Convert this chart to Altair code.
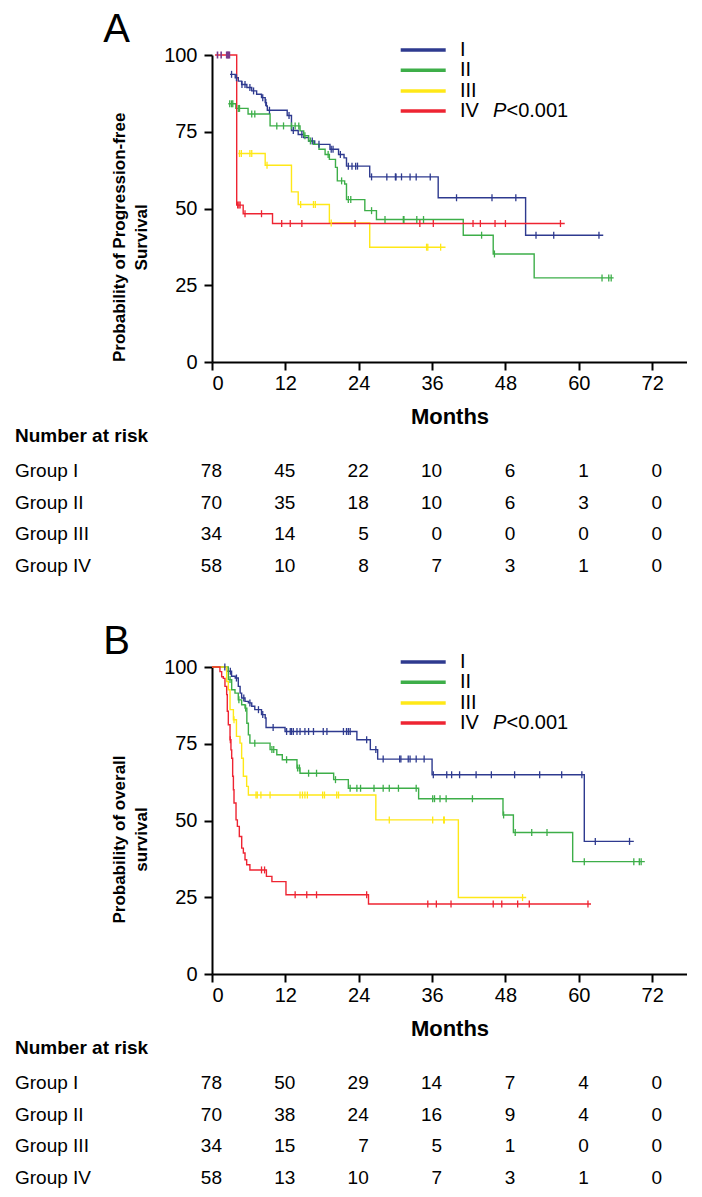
import altair as alt
import pandas as pd

FONT = "Liberation Sans"

GROUPS = ["I", "II", "III", "IV"]
COLORS = ["#2E3A8F", "#3DAE49", "#FFE817", "#EE2432"]
OVERLAP_COLOR = "#7A3A8C"
X_TICKS = [0, 12, 24, 36, 48, 60, 72]
Y_TICKS = [0, 25, 50, 75, 100]
RISK_TIMES = [0, 12, 24, 36, 48, 60, 72]
ROW_LABELS = ["Group I", "Group II", "Group III", "Group IV"]

# ---------------- Panel A : progression-free survival ----------------
A_I_t = [2.95, 3.8, 4.3, 4.85, 5.7, 6.5, 7.3, 8.1, 8.7, 8.9, 9.05, 12.3, 13.0, 14.1, 15.0, 15.8, 16.8, 19.3, 20.7, 21.6, 22.0, 25.8, 37.0, 51.3]
A_I_s = [93.7, 92.6, 91.5, 90.4, 89.4, 88.3, 87.2, 86.1, 84.5, 83.4, 82.0, 80.3, 75.4, 74.1, 73.1, 72.0, 70.9, 69.3, 67.6, 66.5, 63.8, 60.3, 53.5, 41.3]
A_I_end = 64.0
A_I_cens = [3.2, 4.0, 4.9, 5.4, 6.2, 6.8, 8.3, 8.8, 9.4, 12.6, 13.3, 14.7, 16.4, 17.5, 19.5, 19.8, 21.0, 22.3, 22.9, 23.5, 23.8, 26.1, 28.6, 30.0, 30.1, 31.0, 32.4, 33.4, 35.7, 40.0, 45.8, 49.7, 53.0, 55.9, 63.3]

A_II_t = [2.67, 3.9, 5.9, 9.5, 14.4, 15.0, 15.8, 16.6, 17.5, 18.5, 19.2, 20.2, 20.5, 21.7, 22.0, 25.0, 26.9, 41.1, 46.0, 52.7]
A_II_s = [84.1, 82.6, 80.8, 76.9, 75.3, 73.7, 72.0, 70.9, 69.3, 67.6, 66.0, 63.4, 59.0, 58.0, 52.9, 49.3, 46.4, 41.3, 35.2, 27.4]
A_II_end = 65.7
A_II_cens = [2.9, 3.2, 3.4, 4.3, 4.5, 6.5, 7.0, 10.6, 11.7, 13.0, 13.6, 14.2, 15.2, 16.1, 19.0, 21.2, 22.3, 22.7, 26.1, 28.3, 31.3, 31.4, 33.5, 34.6, 44.1, 46.2, 63.8, 64.9, 65.3]

A_III_t = [4.3, 8.7, 13.0, 14.1, 19.2, 25.8]
A_III_s = [67.9, 64.1, 55.4, 51.3, 45.3, 37.4]
A_III_end = 38.2
A_III_cens = [4.5, 4.8, 6.2, 6.5, 9.0, 14.5, 16.6, 16.9, 19.5, 35.1, 35.3, 37.4]

A_IV_t = [0.5, 4.04, 5.1, 9.9]
A_IV_s = [100.0, 51.1, 48.3, 45.1]
A_IV_end = 57.7
A_IV_cens = [4.2, 4.4, 4.6, 5.4, 8.1, 11.4, 12.8, 14.7, 23.4, 34.0, 36.2, 42.7, 43.9, 46.3, 48.0, 57.0]

# overlapping (purple) censor marks at 100% in panel A
A_OVERLAP_t = [0.9, 1.5, 2.4, 2.55, 2.7, 2.85]
A_OVERLAP_s = [100, 100, 100, 100, 100, 100]

A_RISK_I = [78, 45, 22, 10, 6, 1, 0]
A_RISK_II = [70, 35, 18, 10, 6, 3, 0]
A_RISK_III = [34, 14, 5, 0, 0, 0, 0]
A_RISK_IV = [58, 10, 8, 7, 3, 1, 0]

# ---------------- Panel B : overall survival ----------------
B_I_t = [0, 2.4, 3.2, 3.8, 4.3, 4.6, 4.85, 5.4, 5.95, 6.5, 7.0, 8.1, 8.7, 8.84, 11.95, 23.7, 25.9, 27.1, 36.0, 60.9]
B_I_s = [100, 98.6, 97.0, 96.4, 93.7, 91.5, 89.9, 88.8, 88.3, 87.2, 86.1, 84.5, 83.4, 80.3, 79.0, 76.3, 73.1, 70.0, 64.9, 43.2]
B_I_end = 69.0
B_I_cens = [2.1, 3.0, 4.0, 5.2, 6.2, 7.6, 8.3, 10.0, 12.2, 12.8, 13.0, 13.3, 13.9, 14.4, 15.2, 15.8, 16.6, 18.2, 18.8, 21.5, 22.0, 22.3, 22.6, 25.3, 26.8, 28.0, 30.7, 30.9, 32.1, 32.4, 33.4, 34.7, 36.2, 38.4, 39.2, 40.5, 43.2, 45.7, 49.5, 53.6, 57.2, 60.5, 62.7, 68.3]

B_II_t = [0, 2.67, 3.22, 3.76, 4.3, 4.85, 5.4, 5.7, 5.95, 6.2, 9.5, 10.6, 11.5, 13.9, 14.4, 19.9, 22.3, 33.8, 47.6, 49.3, 59.0]
B_II_s = [100, 95.9, 92.6, 91.5, 89.3, 87.7, 86.6, 81.7, 77.9, 75.2, 73.1, 71.4, 69.8, 67.1, 65.4, 63.3, 60.5, 57.1, 51.8, 46.1, 36.6]
B_II_end = 70.8
B_II_cens = [2.95, 4.4, 5.5, 7.0, 9.8, 10.1, 12.2, 14.0, 14.3, 15.8, 17.1, 20.2, 22.6, 23.7, 24.3, 26.5, 28.0, 29.0, 30.5, 33.4, 36.1, 36.4, 37.3, 38.3, 42.6, 47.7, 49.6, 52.3, 54.8, 60.9, 69.0, 69.9, 70.2]

B_III_t = [0, 2.4, 2.67, 2.95, 3.5, 4.0, 4.58, 4.85, 5.13, 5.67, 5.95, 26.8, 40.3]
B_III_s = [100, 95.3, 92.6, 86.1, 82.8, 77.4, 75.2, 70.3, 64.4, 61.1, 58.3, 50.2, 24.9]
B_III_end = 51.4
B_III_cens = [3.6, 7.2, 7.4, 8.0, 9.5, 14.4, 14.8, 15.2, 15.6, 18.1, 18.4, 20.4, 20.7, 29.0, 36.1, 37.9, 38.0, 50.8]

B_IV_t = [0, 1.3, 1.58, 1.85, 2.12, 2.4, 2.5, 2.67, 2.95, 3.1, 3.22, 3.38, 3.5, 3.6, 3.93, 4.15, 4.47, 4.86, 5.13, 5.4, 5.67, 6.2, 8.9, 9.8, 12.1, 25.6]
B_IV_s = [100, 98.5, 96.8, 96.3, 93.7, 91.0, 85.6, 81.2, 76.3, 73.0, 70.3, 64.4, 60.0, 55.7, 50.2, 48.1, 44.8, 41.0, 39.4, 37.2, 35.6, 33.9, 31.8, 30.1, 25.8, 22.8]
B_IV_end = 62.0
B_IV_cens = [3.0, 8.1, 8.6, 13.6, 15.5, 17.1, 25.3, 35.3, 36.7, 39.1, 46.0, 47.4, 50.0, 51.9, 61.5]

B_RISK_I = [78, 50, 29, 14, 7, 4, 0]
B_RISK_II = [70, 38, 24, 16, 9, 4, 0]
B_RISK_III = [34, 15, 7, 5, 1, 0, 0]
B_RISK_IV = [58, 13, 10, 7, 3, 1, 0]


def step_df(curves):
    rows = []
    for g, (ts, ss, end) in zip(GROUPS, curves):
        pts = list(zip(ts, ss)) + [(end, ss[-1])]
        for i, (t, s) in enumerate(pts):
            rows.append({"group": g, "t": t, "s": s, "o": i})
    return pd.DataFrame(rows)


def cens_df(curves, cens):
    rows = []
    for g, (ts, ss, end), ct in zip(GROUPS, curves, cens):
        for c in ct:
            s = ss[0]
            for t, v in zip(ts, ss):
                if t <= c:
                    s = v
            rows.append({"group": g, "t": c, "s": s})
    return pd.DataFrame(rows)


DUMMY = pd.DataFrame({"k": [0]})
LEG_Y = [-5, 15.3, 36, 56]


def panel(letter, curves, cens, risk, ytitle, title_y, overlap=None):
    xs = alt.Scale(domain=[0, 77.7], nice=False, zero=False)
    ys = alt.Scale(domain=[0, 100], nice=False, zero=False)
    cs = alt.Scale(domain=GROUPS, range=COLORS)

    lines = alt.Chart(step_df(curves)).mark_line(
        interpolate="step-after", strokeWidth=1.4
    ).encode(
        x=alt.X("t:Q", scale=xs, axis=alt.Axis(
            values=X_TICKS, title="Months", titleFontSize=22, titleFontWeight="bold",
            titlePadding=13, labelPadding=3, format="d")),
        y=alt.Y("s:Q", scale=ys, axis=alt.Axis(
            values=Y_TICKS, title=ytitle, titleFontSize=17, titleFontWeight="bold",
            titleX=-84, titleY=title_y, titleLineHeight=22, labelPadding=7, format="d")),
        color=alt.Color("group:N", scale=cs, legend=None),
        detail="group:N",
        order="o:Q",
    )

    marks = alt.Chart(cens_df(curves, cens)).mark_point(
        shape="M0,-1L0,1", size=49, strokeWidth=1.3, filled=False, opacity=1
    ).encode(
        x=alt.X("t:Q", scale=xs),
        y=alt.Y("s:Q", scale=ys, axis=None),
        color=alt.Color("group:N", scale=cs, legend=None),
    )
    layers = [lines, marks]
    if overlap is not None:
        layers.append(alt.Chart(pd.DataFrame({"t": overlap[0], "s": overlap[1]})).mark_point(
            shape="M0,-1L0,1", size=49, strokeWidth=1.6, filled=False, opacity=1,
            color=OVERLAP_COLOR
        ).encode(
            x=alt.X("t:Q", scale=xs),
            y=alt.Y("s:Q", scale=ys, axis=None),
        ))

    risk_df = pd.DataFrame([
        {"label": lab, "t": t, "n": n}
        for lab, counts in zip(ROW_LABELS, risk)
        for t, n in zip(RISK_TIMES, counts)
    ])
    ty = alt.Scale(type="point", domain=ROW_LABELS, range=[416, 511], padding=0)
    nums = alt.Chart(risk_df).mark_text(
        align="right", dx=10, baseline="middle", fontSize=19, font=FONT, color="black"
    ).encode(
        x=alt.X("t:Q", scale=xs),
        y=alt.Y("label:N", scale=ty, axis=None),
        text="n:Q",
    )
    labs = alt.Chart(pd.DataFrame({"label": ROW_LABELS})).mark_text(
        align="left", baseline="middle", fontSize=19, font=FONT, color="black"
    ).encode(
        x=alt.value(-197),
        y=alt.Y("label:N", scale=ty, axis=None),
        text="label:N",
    )
    header = alt.Chart(DUMMY).mark_text(
        text="Number at risk", align="left", baseline="middle", fontSize=19,
        fontWeight="bold", font=FONT, color="black"
    ).encode(x=alt.value(-197), y=alt.value(381))

    let = alt.Chart(DUMMY).mark_text(
        text=letter, align="left", baseline="alphabetic", fontSize=40, font=FONT, color="black"
    ).encode(x=alt.value(-108.7), y=alt.value(-13.3))

    legend_layers = []
    for g, c, yv in zip(GROUPS, COLORS, LEG_Y):
        legend_layers.append(alt.Chart(DUMMY).mark_rule(strokeWidth=3.5, color=c).encode(
            x=alt.value(188.7), x2=alt.value(233.7), y=alt.value(yv)))
        legend_layers.append(alt.Chart(DUMMY).mark_text(
            text=g, align="left", baseline="middle", fontSize=20, font=FONT, color="black"
        ).encode(x=alt.value(248), y=alt.value(yv)))
    legend_layers.append(alt.Chart(DUMMY).mark_text(
        text="P", align="left", baseline="middle", fontSize=20, font=FONT,
        fontStyle="italic", color="black").encode(x=alt.value(281), y=alt.value(LEG_Y[3])))
    legend_layers.append(alt.Chart(DUMMY).mark_text(
        text="<0.001", align="left", baseline="middle", fontSize=20, font=FONT,
        color="black").encode(x=alt.value(294.5), y=alt.value(LEG_Y[3])))

    return alt.layer(*layers, nums, labs, header, let, *legend_layers).resolve_scale(
        y="independent"
    ).properties(width=475, height=307)


curves_A = [(A_I_t, A_I_s, A_I_end), (A_II_t, A_II_s, A_II_end),
            (A_III_t, A_III_s, A_III_end), (A_IV_t, A_IV_s, A_IV_end)]
cens_A = [A_I_cens, A_II_cens, A_III_cens, A_IV_cens]
risk_A = [A_RISK_I, A_RISK_II, A_RISK_III, A_RISK_IV]

curves_B = [(B_I_t, B_I_s, B_I_end), (B_II_t, B_II_s, B_II_end),
            (B_III_t, B_III_s, B_III_end), (B_IV_t, B_IV_s, B_IV_end)]
cens_B = [B_I_cens, B_II_cens, B_III_cens, B_IV_cens]
risk_B = [B_RISK_I, B_RISK_II, B_RISK_III, B_RISK_IV]

pA = panel("A", curves_A, cens_A, risk_A, ["Probability of Progression-free", "Survival"], 181.8,
           overlap=(A_OVERLAP_t, A_OVERLAP_s))
pB = panel("B", curves_B, cens_B, risk_B, ["Probability of overall", "survival"], 172)

chart = alt.vconcat(pA, pB, spacing=45).properties(
    padding={"left": 7, "top": 1, "right": 0, "bottom": 0}
).configure_axis(
    domainColor="black", domainWidth=2, tickColor="black", tickWidth=2, tickSize=8,
    labelFontSize=20, labelColor="black", labelFont=FONT, titleFont=FONT,
    titleColor="black", grid=False,
).configure_view(stroke=None)

chart.save("out.html", embed_options={"renderer": "svg", "actions": False})
